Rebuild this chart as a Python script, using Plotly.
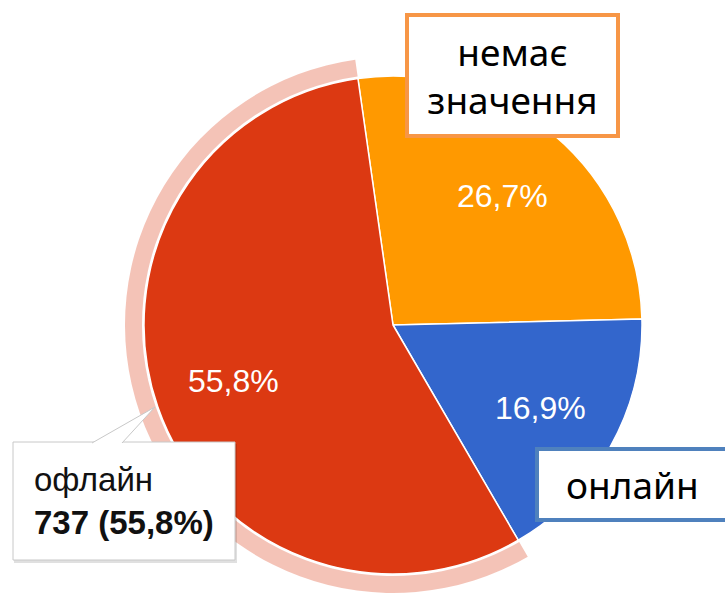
import math
import plotly.graph_objects as go

# ---- data ----
categories = ["немає значення", "онлайн", "офлайн"]
percent_values = [26.7, 16.9, 55.8]
slice_colors = ["#ff9900", "#3366cc", "#dc3912"]
highlight_index = 2
highlight_count = 737
box_labels = ["немає<br>значення", "онлайн"]

W, H = 725, 593
def px(x):
    return x / W
def py(y):
    return 1 - y / H

CX, CY, R = 393, 325, 249
RH_OUT, RH_IN = 268, 251
ROT = -8.1
LABEL_R = 0.68

fig = go.Figure()

# halo around highlighted slice
halo_colors = ["rgba(0,0,0,0)"] * len(categories)
halo_colors[highlight_index] = "rgba(220,57,18,0.30)"
fig.add_trace(go.Pie(
    labels=categories, values=percent_values, sort=False, direction="clockwise",
    rotation=ROT, hole=RH_IN / RH_OUT,
    marker=dict(colors=halo_colors, line=dict(width=0)),
    textinfo="none", hoverinfo="skip", showlegend=False,
    domain=dict(x=[px(CX - RH_OUT), px(CX + RH_OUT)], y=[py(CY + RH_OUT), py(CY - RH_OUT)]),
))

fig.add_trace(go.Pie(
    labels=categories, values=percent_values, sort=False, direction="clockwise",
    rotation=ROT,
    marker=dict(colors=slice_colors, line=dict(color="white", width=1.5)),
    textinfo="none", showlegend=False,
    domain=dict(x=[px(CX - R), px(CX + R)], y=[py(CY + R), py(CY - R)]),
))

def fmt(v):
    return f"{v:.1f}".replace(".", ",") + "%"

annotations = []
# slice percentage labels positioned from the data (mid-angle of each slice)
total = sum(percent_values)
cum = 0.0
for v in percent_values:
    mid = math.radians(ROT + (cum + v / 2) / total * 360)
    cum += v
    lx = CX + LABEL_R * R * math.sin(mid)
    ly = CY - LABEL_R * R * math.cos(mid)
    annotations.append(dict(
        xref="paper", yref="paper", x=px(lx), y=py(ly), xanchor="center", yanchor="middle",
        showarrow=False, text=fmt(v),
        font=dict(family="Liberation Sans, Arial", size=32, color="white"),
    ))

shapes = []
# tooltip shadow, box, pointer
shapes.append(dict(type="rect", xref="paper", yref="paper",
                   x0=px(14), x1=px(237), y0=py(444), y1=py(563),
                   fillcolor="rgba(0,0,0,0.12)", line=dict(width=0)))
shapes.append(dict(type="rect", xref="paper", yref="paper",
                   x0=px(13), x1=px(235), y0=py(442), y1=py(560),
                   fillcolor="white", line=dict(color="#c8c8c8", width=1)))
shapes.append(dict(type="path", xref="paper", yref="paper",
                   path=f"M {px(92)} {py(443)} L {px(155)} {py(407)} L {px(122)} {py(443)}",
                   fillcolor="white", line=dict(color="#c8c8c8", width=1)))
# "онлайн" callout box (open on the right, runs past the edge)
shapes.append(dict(type="rect", xref="paper", yref="paper",
                   x0=px(537), x1=1.0, y0=py(449), y1=py(520),
                   fillcolor="white", line=dict(width=0)))
for seg in [((537, 449), (725, 449)), ((537, 520), (725, 520)), ((537, 447), (537, 522))]:
    (x0, y0), (x1, y1) = seg
    shapes.append(dict(type="line", xref="paper", yref="paper",
                       x0=px(x0), y0=py(y0), x1=px(x1), y1=py(y1),
                       line=dict(color="#4f81bd", width=4)))

annotations.append(dict(
    xref="paper", yref="paper", x=px(32), y=py(501), xanchor="left", yanchor="middle",
    align="left", showarrow=False,
    text=f"{categories[highlight_index]}<br><b>{highlight_count} ({fmt(percent_values[highlight_index])})</b>",
    font=dict(family="Liberation Sans, Arial", size=33, color="#111111"),
))
annotations.append(dict(
    xref="paper", yref="paper", x=px(405), y=py(13), xanchor="left", yanchor="top",
    showarrow=False, text=box_labels[0], align="center",
    width=207, height=117, borderpad=0, borderwidth=4,
    bordercolor="#f79646", bgcolor="white",
    font=dict(family="Noto Sans", size=37, color="black"),
))
annotations.append(dict(
    xref="paper", yref="paper", x=px(632), y=py(484), xanchor="center", yanchor="middle",
    showarrow=False, text=box_labels[1],
    font=dict(family="Noto Sans", size=37, color="black"),
))

fig.update_layout(
    width=W, height=H, margin=dict(l=0, r=0, t=0, b=0),
    paper_bgcolor="white", plot_bgcolor="white",
    separators=", ", shapes=shapes, annotations=annotations,
)

fig.write_html("out.html", config={"displayModeBar": False},
               post_script="document.body.style.margin='0';")
